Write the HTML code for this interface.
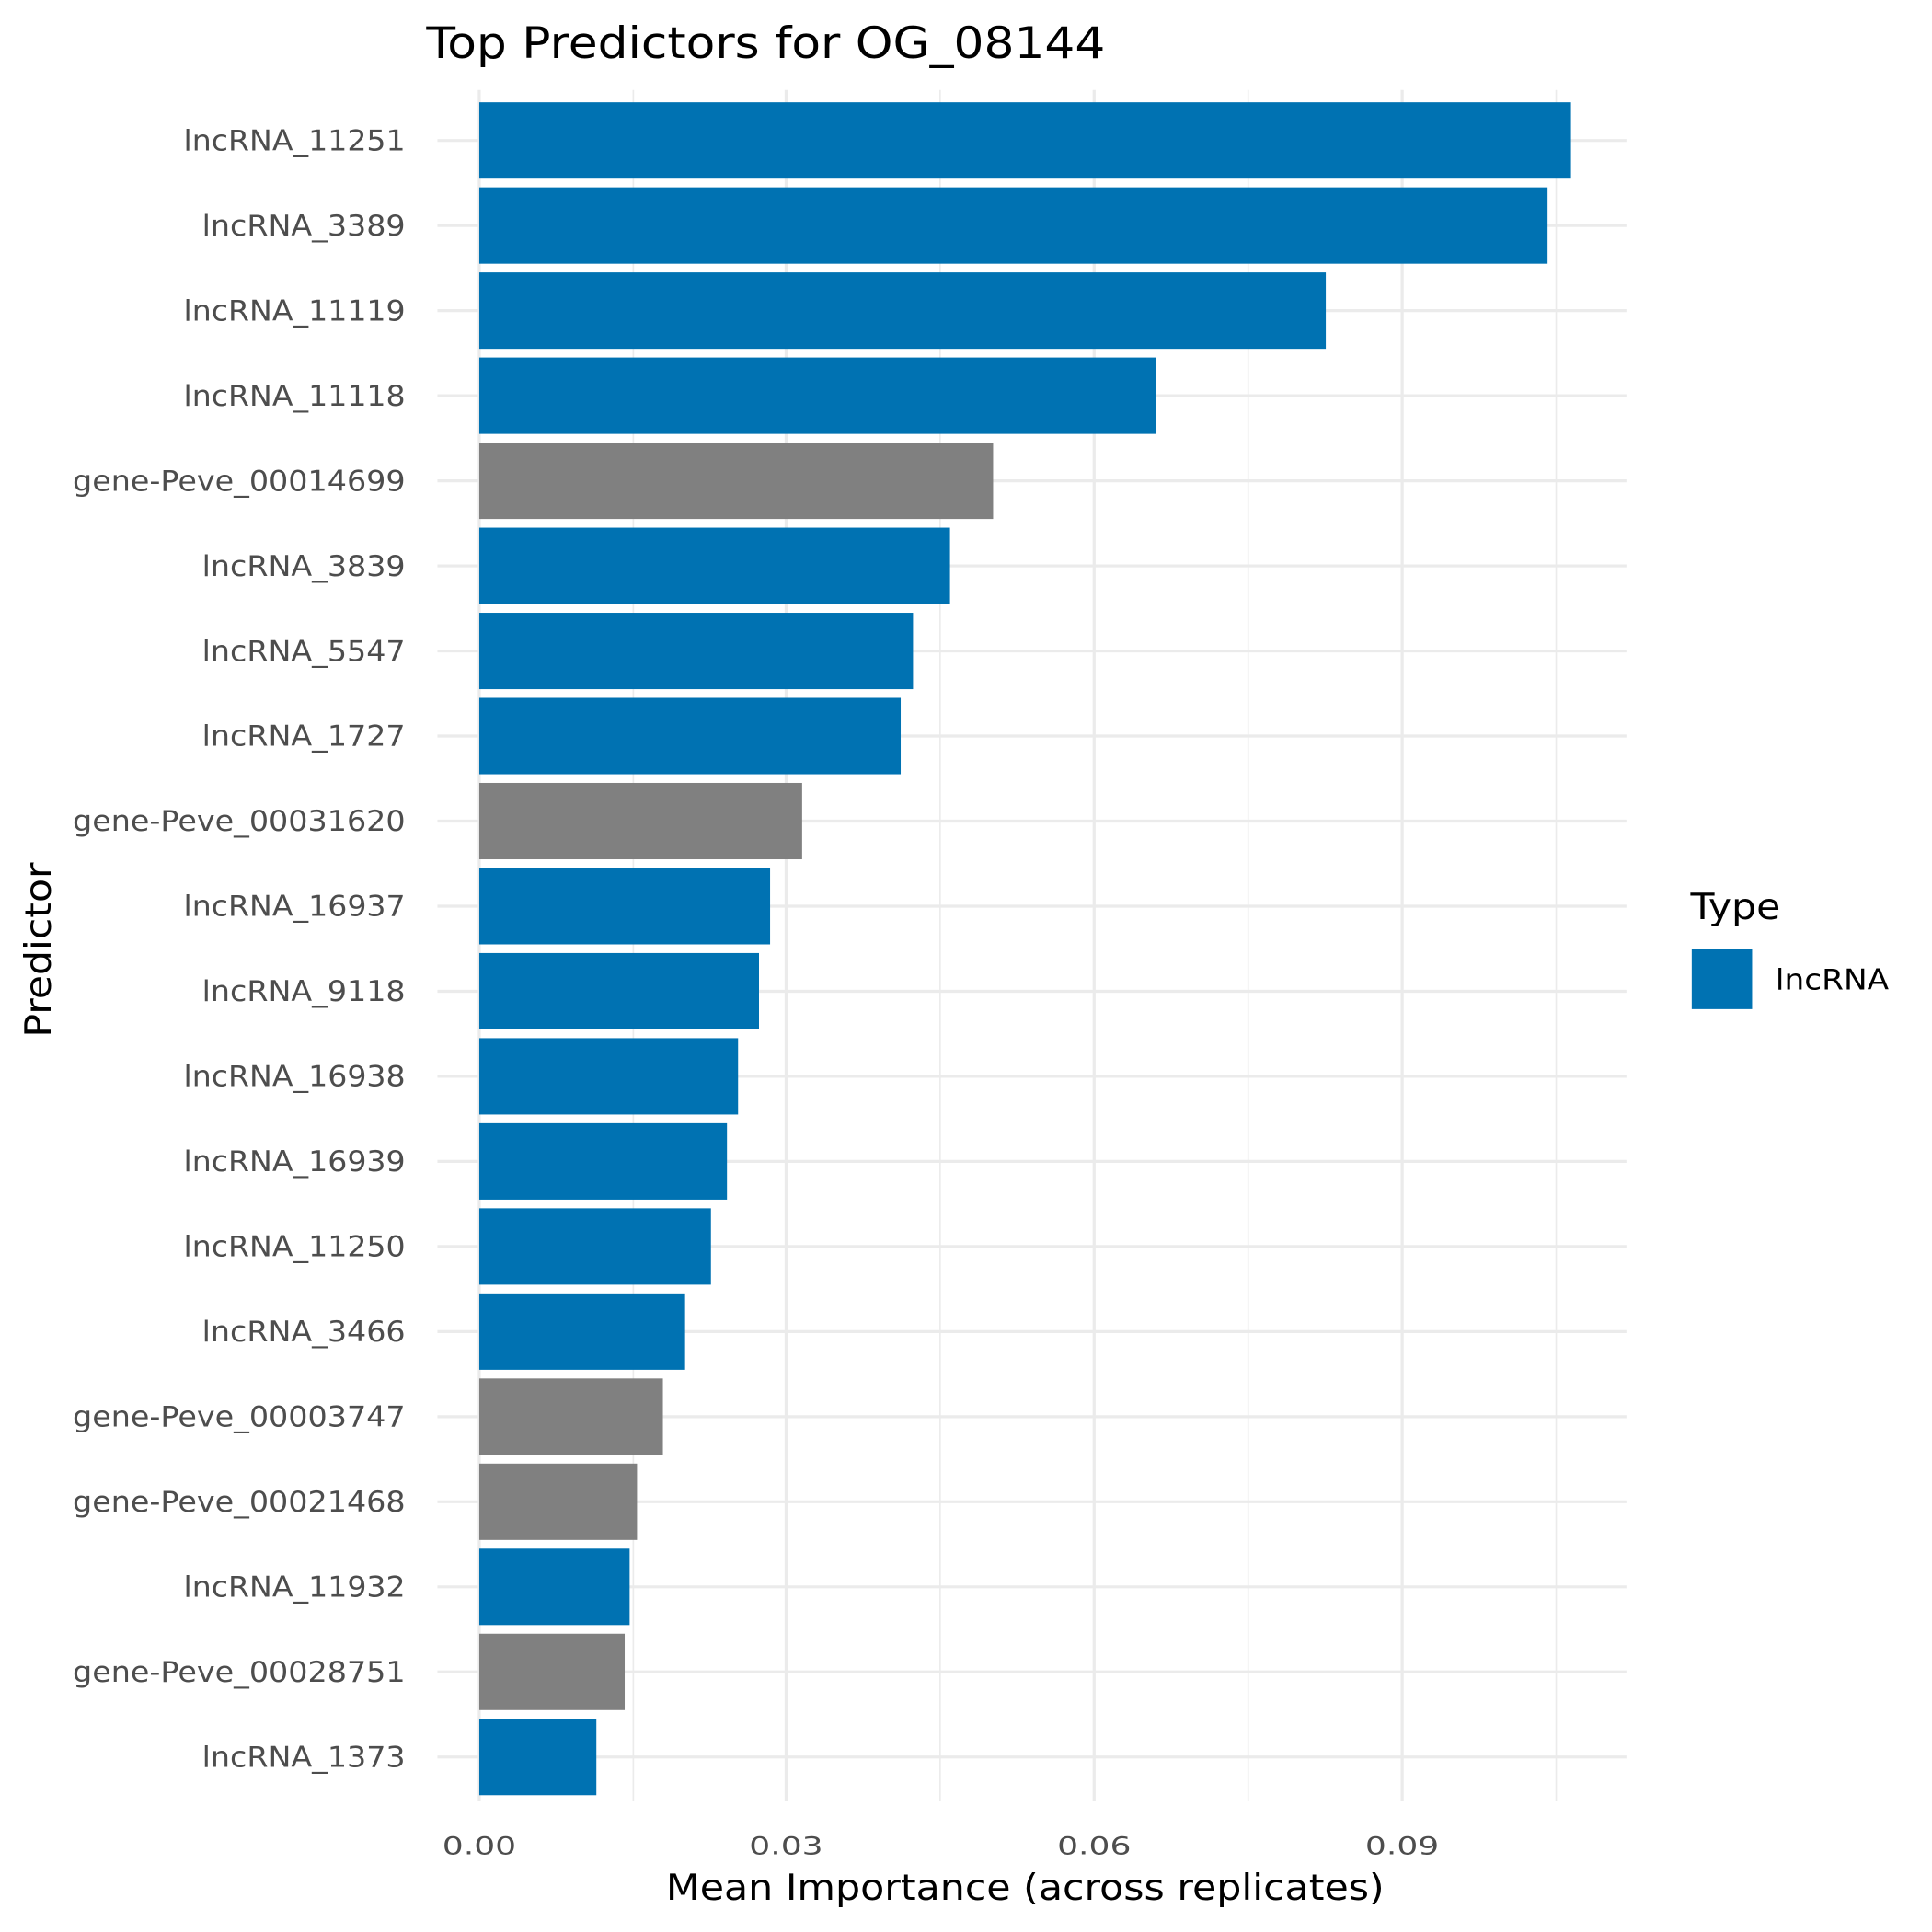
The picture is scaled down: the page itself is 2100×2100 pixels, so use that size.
<!DOCTYPE html>
<html><head><meta charset="utf-8"><style>
html,body{margin:0;padding:0;background:#fff;}
svg{display:block;}
text{font-family:"DejaVu Sans","Liberation Sans",sans-serif;}
</style></head><body>
<svg width="2100" height="2100" viewBox="0 0 1568 1568" xmlns="http://www.w3.org/2000/svg">
<rect width="1568" height="1568" fill="#fff"/>
<g stroke="#ebebeb">
<g stroke-width="1.2">
<line x1="514" y1="73" x2="514" y2="1462"/><line x1="763" y1="73" x2="763" y2="1462"/>
<line x1="1013" y1="73" x2="1013" y2="1462"/><line x1="1263" y1="73" x2="1263" y2="1462"/>
</g>
<g stroke-width="2.4">
<line x1="389" y1="73" x2="389" y2="1462"/><line x1="638" y1="73" x2="638" y2="1462"/>
<line x1="888" y1="73" x2="888" y2="1462"/><line x1="1138" y1="73" x2="1138" y2="1462"/>
</g>
<g stroke-width="2.4" id="hg"></g>
</g>
<g id="bars"></g>
<g id="labels" font-size="23" fill="#4d4d4d" text-anchor="end"></g>
<g font-size="20" fill="#4d4d4d" text-anchor="middle">
<text x="389" y="1505" textLength="60" lengthAdjust="spacingAndGlyphs">0.00</text><text x="638" y="1505" textLength="60" lengthAdjust="spacingAndGlyphs">0.03</text>
<text x="888" y="1505" textLength="60" lengthAdjust="spacingAndGlyphs">0.06</text><text x="1138" y="1505" textLength="60" lengthAdjust="spacingAndGlyphs">0.09</text>
</g>
<text x="832" y="1542" font-size="29" text-anchor="middle" fill="#000" textLength="583" lengthAdjust="spacingAndGlyphs">Mean Importance (across replicates)</text>
<text transform="translate(41,771) rotate(-90)" font-size="29" text-anchor="middle" fill="#000" textLength="142" lengthAdjust="spacingAndGlyphs">Predictor</text>
<text x="346" y="47" font-size="35" fill="#000" textLength="551" lengthAdjust="spacingAndGlyphs">Top Predictors for OG_08144</text>
<text x="1372" y="746" font-size="29" fill="#000" textLength="73" lengthAdjust="spacingAndGlyphs">Type</text>
<rect x="1373" y="770" width="49" height="49" fill="#0072B2"/>
<text x="1441" y="803" font-size="23" fill="#000" textLength="92" lengthAdjust="spacingAndGlyphs">lncRNA</text>
<script>
var names=["lncRNA_11251","lncRNA_3389","lncRNA_11119","lncRNA_11118","gene-Peve_00014699","lncRNA_3839","lncRNA_5547","lncRNA_1727","gene-Peve_00031620","lncRNA_16937","lncRNA_9118","lncRNA_16938","lncRNA_16939","lncRNA_11250","lncRNA_3466","gene-Peve_00003747","gene-Peve_00021468","lncRNA_11932","gene-Peve_00028751","lncRNA_1373"];
var ends=[1275,1256,1076,938,806,771,741,731,651,625,616,599,590,577,556,538,517,511,507,484];
var ns="http://www.w3.org/2000/svg",hg=document.getElementById("hg"),b=document.getElementById("bars"),l=document.getElementById("labels");
for(var i=0;i<20;i++){var y=114+i*69.05;
var ln=document.createElementNS(ns,"line");ln.setAttribute("x1",355);ln.setAttribute("x2",1320);ln.setAttribute("y1",y);ln.setAttribute("y2",y);hg.appendChild(ln);
var r=document.createElementNS(ns,"rect");r.setAttribute("x",389);r.setAttribute("y",y-31);r.setAttribute("width",ends[i]-389);r.setAttribute("height",62);r.setAttribute("fill",names[i].indexOf("gene")==0?"#808080":"#0072B2");b.appendChild(r);
var t=document.createElementNS(ns,"text");t.setAttribute("x",329);t.setAttribute("y",y+8);t.textContent=names[i];
t.setAttribute("textLength",(names[i].length*15).toFixed(0));t.setAttribute("lengthAdjust","spacingAndGlyphs");l.appendChild(t);}
</script>
</svg>
</body></html>
